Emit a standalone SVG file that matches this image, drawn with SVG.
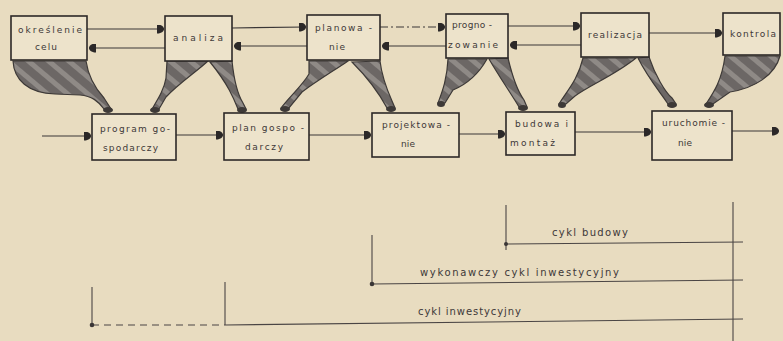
<svg xmlns="http://www.w3.org/2000/svg" width="783" height="341" viewBox="0 0 783 341">
<style>
.bg{fill:#e8dcc0}
.box{fill:#ede3cb;stroke:#2c2827;stroke-width:1.6}
.t{font-family:"DejaVu Sans","Liberation Sans",sans-serif;font-size:9px;fill:#3d3838}
.lb{font-family:"DejaVu Sans","Liberation Sans",sans-serif;font-size:10px;fill:#3d3838}
.ln{stroke:#3a3636;stroke-width:1.2;fill:none}
.tl{stroke:#4a4544;stroke-width:1.1;fill:none}
.fun{fill:url(#hatch);stroke:#3d3937;stroke-width:1.2}
.foot{fill:#3d3937}
</style>
<defs>
<pattern id="hatch" patternUnits="userSpaceOnUse" width="13" height="13" patternTransform="rotate(40)">
<rect width="13" height="13" fill="#6c6765"/>
<rect width="13" height="5" fill="#8f8a86"/>
</pattern>
<marker id="ah" markerWidth="8" markerHeight="9" refX="7" refY="4.5" orient="auto" markerUnits="userSpaceOnUse">
<path d="M0,0 C5,0 7,2.5 7,4.5 C7,6.5 5,9 0,9 Z" fill="#2b2828"/>
</marker>
</defs>
<rect class="bg" x="0" y="0" width="783" height="341"/>

<g id="connectors">
<!-- top row -->
<line class="ln" x1="87" y1="29" x2="164" y2="29" marker-end="url(#ah)"/>
<line class="ln" x1="165" y1="48" x2="89" y2="48" marker-end="url(#ah)"/>
<line class="ln" x1="232" y1="28" x2="306" y2="27" marker-end="url(#ah)"/>
<line class="ln" x1="307" y1="46" x2="234" y2="46" marker-end="url(#ah)"/>
<line class="ln" x1="380" y1="27" x2="445" y2="27" stroke-dasharray="8,3,2,3" marker-end="url(#ah)"/>
<line class="ln" x1="446" y1="46" x2="382" y2="46" marker-end="url(#ah)"/>
<line class="ln" x1="508" y1="26" x2="580" y2="26" marker-end="url(#ah)"/>
<line class="ln" x1="581" y1="45" x2="510" y2="45" marker-end="url(#ah)"/>
<line class="ln" x1="649" y1="33" x2="722" y2="33" marker-end="url(#ah)"/>
<!-- bottom row -->
<line class="ln" x1="42" y1="136" x2="91" y2="136" marker-end="url(#ah)"/>
<line class="ln" x1="176" y1="135" x2="223" y2="135" marker-end="url(#ah)"/>
<line class="ln" x1="309" y1="135" x2="371" y2="135" marker-end="url(#ah)"/>
<line class="ln" x1="459" y1="134" x2="505" y2="134" marker-end="url(#ah)"/>
<line class="ln" x1="575" y1="132" x2="651" y2="132" marker-end="url(#ah)"/>
<line class="ln" x1="732" y1="131" x2="779" y2="131" marker-end="url(#ah)"/>
<!-- funnels -->
<path class="fun" d="M13,61 L86,61 C88,75 95,88 104,98 L111,109 L104,109 C98,101 92,96 80,95 L55,94 C28,93 14,80 13,61 Z"/>
<path class="fun" d="M167,61 L208,61 C196,72 178,84 166,97 L159,109 L152,109 C158,99 164,90 166,78 Z"/>
<path class="fun" d="M210,62 L232,61 C234,80 238,95 243,103 L246,109 L238,109 C234,99 228,84 210,62 Z"/>
<path class="fun" d="M309,61 L348,61 C335,70 318,80 302,92 L289,108 L281,108 C290,96 302,86 309,74 Z"/>
<path class="fun" d="M352,62 L380,61 C382,78 388,92 392,101 L395,108 L387,108 C380,95 370,80 352,62 Z"/>
<path class="fun" d="M448,59 L487,59 C478,75 465,85 453,90 L445,103 L438,103 C442,92 447,80 448,59 Z"/>
<path class="fun" d="M489,59 L508,58 C512,75 518,92 524,100 L527,107 L519,107 C512,95 500,78 489,59 Z"/>
<path class="fun" d="M583,58 L636,58 C615,75 590,85 575,96 L566,104 L559,104 C566,92 578,80 583,58 Z"/>
<path class="fun" d="M638,58 L649,57 C655,75 665,92 672,98 L676,104 L668,104 C660,92 648,78 638,58 Z"/>
<path class="fun" d="M725,56 L780,56 C775,75 755,88 730,92 L713,104 L706,104 C714,92 722,80 725,56 Z"/>
<ellipse class="foot" cx="108" cy="110" rx="5" ry="3"/>
<ellipse class="foot" cx="155" cy="110" rx="5" ry="3"/>
<ellipse class="foot" cx="242" cy="110" rx="5" ry="3"/>
<ellipse class="foot" cx="285" cy="109" rx="5" ry="3"/>
<ellipse class="foot" cx="391" cy="109" rx="5" ry="3"/>
<ellipse class="foot" cx="441" cy="104" rx="4" ry="3"/>
<ellipse class="foot" cx="523" cy="108" rx="5" ry="3"/>
<ellipse class="foot" cx="562" cy="105" rx="4" ry="3"/>
<ellipse class="foot" cx="672" cy="105" rx="5" ry="3"/>
<ellipse class="foot" cx="709" cy="105" rx="5" ry="3"/>
<!-- timeline -->
<line class="tl" x1="733" y1="202" x2="733" y2="341"/>
<line class="tl" x1="506" y1="205" x2="506" y2="250"/>
<line class="tl" x1="506" y1="244" x2="743" y2="242"/>
<line class="tl" x1="372" y1="235" x2="372" y2="284"/>
<line class="tl" x1="372" y1="284" x2="743" y2="280"/>
<line class="tl" x1="92" y1="287" x2="92" y2="325"/>
<line class="tl" x1="225" y1="282" x2="225" y2="325"/>
<line class="tl" x1="92" y1="325" x2="225" y2="325" stroke-dasharray="7,5"/>
<line class="tl" x1="225" y1="325" x2="743" y2="319"/>
<circle cx="506" cy="244" r="2" fill="#3a3636"/>
<circle cx="372" cy="284" r="2.3" fill="#3a3636"/>
<circle cx="92" cy="325" r="2.3" fill="#3a3636"/>
<text class="lb" x="552" y="236" textLength="76" lengthAdjust="spacing">cykl budowy</text>
<text class="lb" x="420" y="276" textLength="199" lengthAdjust="spacing">wykonawczy cykl inwestycyjny</text>
<text class="lb" x="418" y="315" textLength="103" lengthAdjust="spacing">cykl inwestycyjny</text>
</g>

<g id="n-okreslenie"><rect class="box" x="11" y="16" width="76" height="44"/>
<text class="t" x="18" y="33" textLength="64" lengthAdjust="spacing">określenie</text>
<text class="t" x="35" y="50" textLength="22" lengthAdjust="spacing">celu</text></g>
<g id="n-analiza"><rect class="box" x="165" y="16" width="67" height="45"/>
<text class="t" x="173" y="41" textLength="50" lengthAdjust="spacing">analiza</text></g>
<g id="n-planowanie"><rect class="box" x="307" y="15" width="73" height="45"/>
<text class="t" x="315" y="31" textLength="57" lengthAdjust="spacing">planowa -</text>
<text class="t" x="329" y="50" textLength="16" lengthAdjust="spacing">nie</text></g>
<g id="n-prognozowanie"><rect class="box" x="446" y="14" width="62" height="44"/>
<text class="t" x="452" y="28" textLength="40" lengthAdjust="spacing">progno -</text>
<text class="t" x="448" y="48" textLength="50" lengthAdjust="spacing">zowanie</text></g>
<g id="n-realizacja"><rect class="box" x="581" y="13" width="68" height="44"/>
<text class="t" x="588" y="38" textLength="54" lengthAdjust="spacing">realizacja</text></g>
<g id="n-kontrola"><rect class="box" x="723" y="13" width="57" height="42"/>
<text class="t" x="730" y="37" textLength="46" lengthAdjust="spacing">kontrola</text></g>

<g id="n-program"><rect class="box" x="92" y="114" width="84" height="46"/>
<text class="t" x="100" y="132" textLength="70" lengthAdjust="spacing">program go-</text>
<text class="t" x="103" y="151" textLength="55" lengthAdjust="spacing">spodarczy</text></g>
<g id="n-plan"><rect class="box" x="224" y="113" width="85" height="47"/>
<text class="t" x="232" y="131" textLength="72" lengthAdjust="spacing">plan gospo -</text>
<text class="t" x="245" y="150" textLength="38" lengthAdjust="spacing">darczy</text></g>
<g id="n-projektowanie"><rect class="box" x="372" y="113" width="87" height="44"/>
<text class="t" x="382" y="128" textLength="68" lengthAdjust="spacing">projektowa -</text>
<text class="t" x="401" y="147" textLength="14" lengthAdjust="spacing">nie</text></g>
<g id="n-budowa"><rect class="box" x="506" y="112" width="69" height="43"/>
<text class="t" x="515" y="127" textLength="53" lengthAdjust="spacing">budowa i</text>
<text class="t" x="510" y="146" textLength="45" lengthAdjust="spacing">montaż</text></g>
<g id="n-uruchomienie"><rect class="box" x="652" y="111" width="80" height="49"/>
<text class="t" x="662" y="126" textLength="63" lengthAdjust="spacing">uruchomie -</text>
<text class="t" x="678" y="146" textLength="14" lengthAdjust="spacing">nie</text></g>
</svg>
